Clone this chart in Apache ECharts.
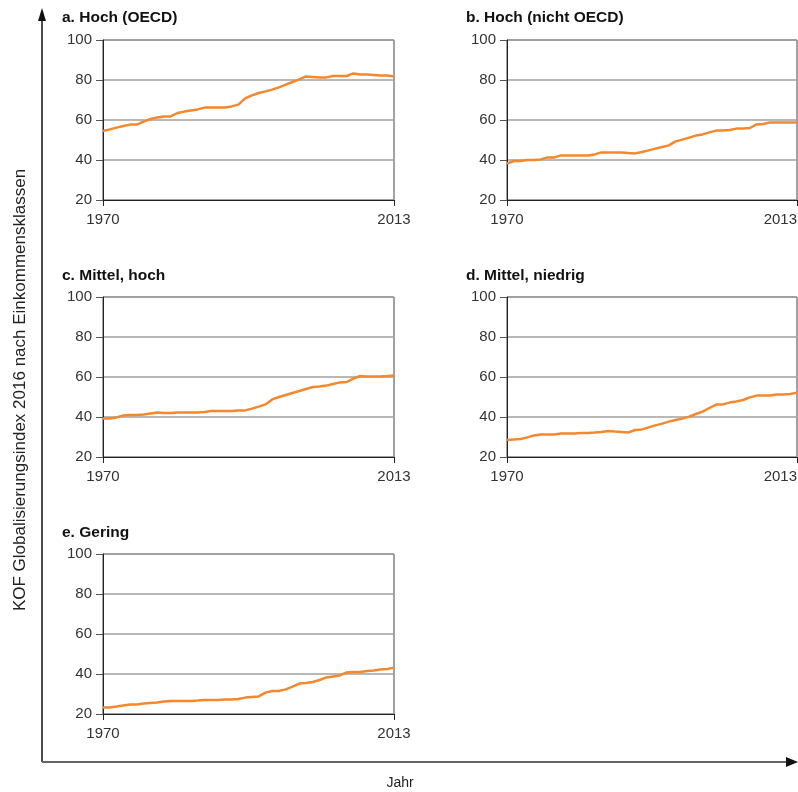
<!DOCTYPE html>
<html>
<head>
<meta charset="utf-8">
<script src="https://cdn.jsdelivr.net/npm/echarts@6/dist/echarts.min.js"></script>
<style>
  html, body { margin: 0; padding: 0; background: #fff; }
  #main { width: 798px; height: 792px; }
</style>
</head>
<body>
<div id="main"></div>
<script>
var years = ['1970', '1971', '1972', '1973', '1974', '1975', '1976', '1977', '1978', '1979',
    '1980', '1981', '1982', '1983', '1984', '1985', '1986', '1987', '1988', '1989',
    '1990', '1991', '1992', '1993', '1994', '1995', '1996', '1997', '1998', '1999',
    '2000', '2001', '2002', '2003', '2004', '2005', '2006', '2007', '2008', '2009',
    '2010', '2011', '2012', '2013'];

var titles = ['a. Hoch (OECD)', 'b. Hoch (nicht OECD)', 'c. Mittel, hoch', 'd. Mittel, niedrig', 'e. Gering'];

var hochOecd = [54.5, 55.3, 56.2, 57.0, 57.7, 57.7, 59.2, 60.5, 61.3, 61.8,
    61.8, 63.5, 64.2, 64.7, 65.3, 66.2, 66.2, 66.2, 66.2, 66.8,
    67.7, 70.8, 72.3, 73.5, 74.3, 75.2, 76.3, 77.7, 79.0, 80.3,
    81.8, 81.5, 81.2, 81.3, 82.0, 82.0, 82.0, 83.3, 82.7, 82.7,
    82.5, 82.3, 82.2, 81.8];

var hochNichtOecd = [38.2, 39.5, 39.5, 40.0, 40.0, 40.3, 41.3, 41.3, 42.3, 42.3,
    42.3, 42.3, 42.3, 42.8, 43.8, 43.8, 43.8, 43.8, 43.5, 43.3,
    44.0, 44.8, 45.7, 46.5, 47.3, 49.3, 50.2, 51.2, 52.2, 52.8,
    53.8, 54.7, 54.7, 55.0, 55.7, 55.7, 56.0, 57.8, 58.0, 58.8,
    58.8, 58.8, 58.8, 58.8];

var mittelHoch = [39.2, 39.3, 39.8, 40.8, 41.0, 41.0, 41.3, 41.8, 42.3, 42.0,
    42.0, 42.2, 42.3, 42.3, 42.3, 42.5, 43.0, 43.0, 43.0, 43.0,
    43.2, 43.3, 44.2, 45.2, 46.3, 48.8, 50.0, 51.0, 52.0, 53.0,
    54.0, 55.0, 55.2, 55.7, 56.5, 57.3, 57.5, 59.2, 60.5, 60.3,
    60.2, 60.3, 60.5, 60.8];

var mittelNiedrig = [28.5, 28.8, 29.0, 29.8, 30.8, 31.2, 31.2, 31.3, 31.8, 31.8,
    31.8, 32.0, 32.0, 32.2, 32.5, 33.0, 32.7, 32.5, 32.3, 33.5,
    33.8, 34.8, 35.8, 36.7, 37.7, 38.5, 39.2, 40.2, 41.5, 42.7,
    44.5, 46.2, 46.3, 47.2, 47.8, 48.5, 49.8, 50.7, 50.7, 50.8,
    51.2, 51.2, 51.5, 52.2];

var gering = [23.3, 23.3, 23.7, 24.2, 24.7, 24.8, 25.2, 25.5, 25.8, 26.2,
    26.5, 26.5, 26.5, 26.5, 26.7, 27.0, 27.0, 27.0, 27.2, 27.3,
    27.5, 28.2, 28.5, 28.8, 30.7, 31.5, 31.5, 32.3, 33.7, 35.2,
    35.5, 36.0, 37.0, 38.3, 38.7, 39.3, 40.8, 41.0, 41.0, 41.5,
    41.8, 42.2, 42.5, 43.2];

var yTicks = { min: 20, max: 100, step: 20 };

var allSeries = [hochOecd, hochNichtOecd, mittelHoch, mittelNiedrig, gering];

// panel boxes in pixels
var boxes = [
    { left: 103, top: 40, width: 291 },
    { left: 507, top: 40, width: 290 },
    { left: 103, top: 297, width: 291 },
    { left: 507, top: 297, width: 290 },
    { left: 103, top: 554, width: 291 }
];
var titlePos = [
    { left: 62, top: 10 },
    { left: 466, top: 10 },
    { left: 62, top: 268 },
    { left: 466, top: 268 },
    { left: 62, top: 525 }
];

var font = '"Liberation Sans", Arial, sans-serif';
var orange = '#f5882c';

function chart() {
    var dom = document.getElementById('main');
    var myChart = echarts.init(dom);

    var grid = [], xAxis = [], yAxis = [], series = [], title = [];

    for (var i = 0; i < allSeries.length; i++) {
        var rightCol = boxes[i].left > 400;
        grid.push({
            left: boxes[i].left,
            top: boxes[i].top,
            width: boxes[i].width,
            height: 160,
            show: true,
            borderColor: '#444',
            borderWidth: 1,
            containLabel: false,
            outerBoundsMode: 'none'
        });
        title.push({
            text: titles[i],
            left: titlePos[i].left,
            top: titlePos[i].top,
            padding: 0,
            textStyle: { fontFamily: font, fontSize: 15.5, fontWeight: 'bold', color: '#111' }
        });
        xAxis.push({
            gridIndex: i,
            type: 'category',
            boundaryGap: false,
            data: years,
            axisLine: { show: true, lineStyle: { color: '#222', width: 1 } },
            axisTick: { show: true, interval: 42, length: 6, lineStyle: { color: '#222' } },
            axisLabel: {
                interval: 42, margin: 12, fontFamily: font, fontSize: 15, color: '#333',
                alignMaxLabel: rightCol ? 'right' : 'center'
            },
            splitLine: { show: false }
        });
        yAxis.push({
            gridIndex: i,
            type: 'value',
            min: yTicks.min,
            max: yTicks.max,
            interval: yTicks.step,
            axisLine: { show: true, lineStyle: { color: '#222', width: 1 } },
            axisTick: { show: true, length: 7, lineStyle: { color: '#555' } },
            axisLabel: { margin: 11, fontFamily: font, fontSize: 15, color: '#333' },
            splitLine: { show: true, lineStyle: { color: '#a0a0a0', width: 1.5 } }
        });
        series.push({
            type: 'line',
            xAxisIndex: i,
            yAxisIndex: i,
            data: allSeries[i],
            showSymbol: false,
            lineStyle: { color: orange, width: 2.5 },
            itemStyle: { color: orange }
        });
    }

    var option = {
        animation: false,
        backgroundColor: '#fff',
        title: title,
        grid: grid,
        xAxis: xAxis,
        yAxis: yAxis,
        series: series,
        graphic: [
            { type: 'line', shape: { x1: 42, y1: 762, x2: 42, y2: 18 }, style: { stroke: '#111', lineWidth: 1.5 } },
            { type: 'polygon', shape: { points: [[42, 8], [38, 21], [46, 21]] }, style: { fill: '#111' } },
            { type: 'line', shape: { x1: 42, y1: 762, x2: 788, y2: 762 }, style: { stroke: '#666', lineWidth: 2 } },
            { type: 'polygon', shape: { points: [[798, 762], [786, 757], [786, 767]] }, style: { fill: '#111' } },
            {
                type: 'text', x: 20, y: 390, rotation: Math.PI / 2,
                style: {
                    text: 'KOF Globalisierungsindex 2016 nach Einkommensklassen',
                    fontFamily: font, fontSize: 17, fill: '#222',
                    textAlign: 'center', textVerticalAlign: 'middle'
                }
            },
            {
                type: 'text', x: 400, y: 783,
                style: {
                    text: 'Jahr', fontFamily: font, fontSize: 14, fill: '#222',
                    textAlign: 'center', textVerticalAlign: 'middle'
                }
            }
        ]
    };

    myChart.setOption(option, true);
}

chart();
</script>
</body>
</html>
